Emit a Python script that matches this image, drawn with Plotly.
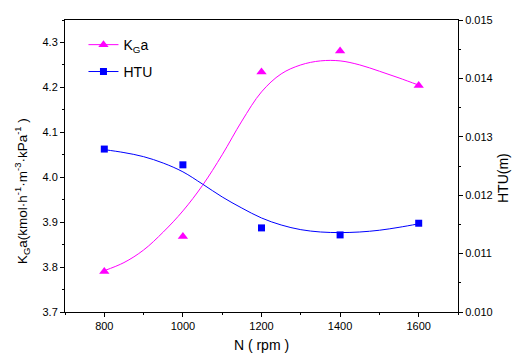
import plotly.graph_objects as go

# measured points
N = [800, 1000, 1200, 1400, 1600]
KGa = [3.790, 3.868, 4.234, 4.281, 4.204]
HTU = [0.01279, 0.01252, 0.01144, 0.01132, 0.01152]

# fitted curves
N_fit = [800, 850, 900, 950, 1000, 1050, 1100, 1150, 1200, 1250, 1300, 1350, 1400, 1450, 1500, 1550, 1600]
KGa_fit = [3.792, 3.810, 3.838, 3.878, 3.925, 3.982, 4.050, 4.125, 4.190, 4.230, 4.250, 4.259, 4.259, 4.250, 4.236, 4.221, 4.205]
HTU_fit = [0.01278, 0.01273, 0.01266, 0.01255, 0.01240, 0.01219, 0.01197, 0.01178, 0.01161, 0.01149, 0.01141, 0.01137, 0.01136, 0.01137, 0.01140, 0.01145, 0.01151]

x_ticks = [800, 1000, 1200, 1400, 1600]

PINK = "#FF00FF"
BLUE = "#0000FF"
FONT = "Liberation Sans, Arial, sans-serif"

fig = go.Figure()

fig.add_trace(go.Scatter(x=N_fit, y=KGa_fit, mode="lines", line=dict(color=PINK, width=1, shape="spline", smoothing=1.0),
                         showlegend=False, yaxis="y"))
fig.add_trace(go.Scatter(x=N, y=KGa, mode="markers", marker=dict(symbol="triangle-up", size=9, color=PINK),
                         showlegend=False, yaxis="y"))
fig.add_trace(go.Scatter(x=N_fit, y=HTU_fit, mode="lines", line=dict(color=BLUE, width=1, shape="spline", smoothing=1.0),
                         showlegend=False, yaxis="y2"))
fig.add_trace(go.Scatter(x=N, y=HTU, mode="markers", marker=dict(symbol="square", size=7, color=BLUE),
                         showlegend=False, yaxis="y2"))

# legend entries
fig.add_trace(go.Scatter(x=[None], y=[None], mode="lines+markers", name="K<sub>G</sub>a",
                         line=dict(color=PINK, width=1), marker=dict(symbol="triangle-up", size=9, color=PINK),
                         legend="legend"))
fig.add_trace(go.Scatter(x=[None], y=[None], mode="lines+markers", name="HTU",
                         line=dict(color=BLUE, width=1), marker=dict(symbol="square", size=7, color=BLUE),
                         legend="legend2", yaxis="y2"))

axis_common = dict(showline=True, linecolor="black", linewidth=1, showgrid=False, zeroline=False, automargin=False,
                   ticks="outside", ticklen=4, tickcolor="black", tickfont=dict(size=11, color="black", family=FONT))

fig.update_layout(
    width=515, height=360,
    margin=dict(l=65, r=57, t=20, b=48),
    paper_bgcolor="white", plot_bgcolor="white",
    font=dict(family=FONT, color="black"),
    xaxis=dict(range=[700, 1700], tickvals=x_ticks, mirror=True,
               minor=dict(dtick=100, tick0=700, ticks="outside", ticklen=2, tickcolor="black"),
               title=dict(text="N ( rpm )", font=dict(size=14), standoff=8), **axis_common),
    yaxis=dict(range=[3.7, 4.35], tick0=3.7, dtick=0.1, tickformat=".1f",
               minor=dict(dtick=0.05, tick0=3.7, ticks="outside", ticklen=2, tickcolor="black"),
               **axis_common),
    yaxis2=dict(range=[0.010, 0.015], tick0=0.010, dtick=0.001, tickformat=".3f", overlaying="y", side="right",
                minor=dict(dtick=0.0005, tick0=0.010, ticks="outside", ticklen=2, tickcolor="black"),
                **axis_common),
    legend=dict(x=0.047, y=0.969, xanchor="left", yanchor="top", bgcolor="rgba(0,0,0,0)",
                font=dict(size=14, family=FONT)),
    legend2=dict(x=0.047, y=0.877, xanchor="left", yanchor="top", bgcolor="rgba(0,0,0,0)",
                 font=dict(size=14, family=FONT)),
    annotations=[
        dict(text="K<sub>G</sub>a(kmol·h<sup>-1</sup>·m<sup>-3</sup>·kPa<sup>-1</sup> )", textangle=-90,
             xref="paper", yref="paper", x=(22 - 65) / 393, y=(312 - 191) / 292,
             xanchor="center", yanchor="middle", showarrow=False, font=dict(size=13.5, color="black")),
        dict(text="HTU(m)", textangle=-90,
             xref="paper", yref="paper", x=(503 - 65) / 393, y=(312 - 178) / 292,
             xanchor="center", yanchor="middle", showarrow=False, font=dict(size=14, color="black")),
    ],
)

fig.write_html("out.html", config={"displayModeBar": False},
               post_script="document.body.style.margin='0';document.body.style.overflow='hidden';")
